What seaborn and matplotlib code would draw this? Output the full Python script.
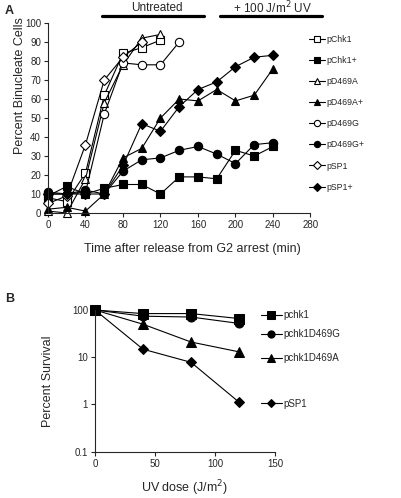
import numpy as np
import pandas as pd
import seaborn as sns
import matplotlib
matplotlib.use("Agg")
import matplotlib.pyplot as plt
from matplotlib.ticker import FixedLocator, FixedFormatter, NullLocator

# ---- panel A data: percent binucleate cells vs time (min) ----
t_pchk1 = [0, 20, 40, 60, 80, 100, 120]
v_pchk1 = [8, 6, 21, 62, 84, 87, 91]
t_pd469a = [0, 20, 40, 60, 80, 100, 120]
v_pd469a = [1, 0, 18, 58, 78, 92, 94]
t_pd469g = [0, 20, 40, 60, 80, 100, 120, 140]
v_pd469g = [10, 10, 11, 52, 79, 78, 78, 90]
t_psp1 = [0, 20, 40, 60, 80, 100]
v_psp1 = [5, 9, 36, 70, 82, 90]

t_uv = [0, 20, 40, 60, 80, 100, 120, 140, 160, 180, 200, 220, 240]
v_pchk1_uv = [9, 14, 10, 13, 15, 15, 10, 19, 19, 18, 33, 30, 35]
v_pd469a_uv = [2, 3, 1, 10, 29, 34, 50, 60, 59, 65, 59, 62, 76]
v_pd469g_uv = [11, 10, 12, 10, 22, 28, 29, 33, 35, 31, 26, 36, 37]
v_psp1_uv = [10, 10, 10, 10, 25, 47, 43, 56, 65, 69, 77, 82, 83]

# ---- panel B data: percent survival vs UV dose ----
dose = [0, 40, 80, 120]
surv_pchk1 = [100, 84, 84, 66]
surv_d469g = [100, 74, 71, 52]
surv_d469a = [100, 50, 21, 13]
surv_psp1 = [100, 14.8, 7.8, 1.12]

sns.set_style("ticks")
plt.rcParams['font.family'] = ['Liberation Sans', 'DejaVu Sans']
plt.rcParams['axes.linewidth'] = 0.8
plt.rcParams['xtick.major.width'] = 0.8
plt.rcParams['ytick.major.width'] = 0.8
plt.rcParams['xtick.major.size'] = 3
plt.rcParams['ytick.major.size'] = 3

fig = plt.figure(figsize=(4.01, 4.98), dpi=100)
axA = fig.add_axes([0.1197, 0.5723, 0.6546, 0.3815])
axB = fig.add_axes([0.2369, 0.093, 0.4489, 0.2845])

seriesA = [
    ("pChk1", t_pchk1, v_pchk1, "s", "white", 6),
    ("pChk1+", t_uv, v_pchk1_uv, "s", "black", 6),
    ("pD469A", t_pd469a, v_pd469a, "^", "white", 6),
    ("pD469A+", t_uv, v_pd469a_uv, "^", "black", 6),
    ("pD469G", t_pd469g, v_pd469g, "o", "white", 6),
    ("pD469G+", t_uv, v_pd469g_uv, "o", "black", 6),
    ("pSP1", t_psp1, v_psp1, "D", "white", 5),
    ("pSP1+", t_uv, v_psp1_uv, "D", "black", 5),
]
for name, t, v, mk, fc, ms in seriesA:
    df = pd.DataFrame({"time": t, "pct": v})
    sns.lineplot(data=df, x="time", y="pct", ax=axA, color="black", lw=0.8,
                 marker=mk, markerfacecolor=fc, markeredgecolor="black",
                 markeredgewidth=0.8, markersize=ms, label=name, clip_on=False)

axA.set_xlim(0, 280)
axA.set_ylim(0, 100)
axA.set_xticks(np.arange(0, 281, 40))
axA.set_yticks(np.arange(0, 101, 10))
axA.tick_params(labelsize=7, pad=2)
axA.set_xlabel("Time after release from G2 arrest (min)", fontsize=9)
axA.set_ylabel("Percent Binucleate Cells", fontsize=9)
axA.xaxis.set_label_coords(0.55, -0.16)
axA.yaxis.set_label_coords(-0.085, 0.67)
sns.despine(ax=axA)
axA.legend(loc="upper left", bbox_to_anchor=(0.98, 0.955), frameon=False,
           fontsize=6.3, handlelength=1.9, handletextpad=0.15, labelspacing=1.38,
           borderaxespad=0, markerscale=0.75)

# treatment bars above panel A
tr = axA.get_xaxis_transform()
axA.plot([58, 166], [1.037, 1.037], transform=tr, color="black", lw=2.3, clip_on=False)
axA.plot([183, 292], [1.037, 1.037], transform=tr, color="black", lw=2.3, clip_on=False)
axA.text(116, 1.08, "Untreated", transform=tr, ha="center", va="center", fontsize=8.5)
axA.text(240, 1.08, "+ 100 J/m$^2$ UV", transform=tr, ha="center", va="center", fontsize=8.5)

# ---- panel B ----
seriesB = [
    ("pchk1", surv_pchk1, "s", 6.5, 0.965),
    ("pchk1D469G", surv_d469g, "o", 6.5, 0.83),
    ("pchk1D469A", surv_d469a, "^", 6.5, 0.66),
    ("pSP1", surv_psp1, "D", 5.5, 0.34),
]
legs = []
for name, v, mk, ms, ly in seriesB:
    df = pd.DataFrame({"dose": dose, "surv": v})
    line = sns.lineplot(data=df, x="dose", y="surv", ax=axB, color="black", lw=0.8,
                        marker=mk, markerfacecolor="black", markeredgecolor="black",
                        markersize=ms, clip_on=False, legend=False).lines[-1]
    lg = axB.legend([line], [name], loc="center left", bbox_to_anchor=(0.92, ly),
                    frameon=False, fontsize=7, handlelength=2.15, handletextpad=0.15,
                    borderaxespad=0, borderpad=0, markerscale=0.8)
    legs.append(lg)
for lg in legs[:-1]:
    axB.add_artist(lg)

axB.set_yscale("log")
axB.set_ylim(0.1, 100)
axB.set_xlim(0, 150)
axB.set_xticks([0, 50, 100, 150])
axB.yaxis.set_major_locator(FixedLocator([0.1, 1, 10, 100]))
axB.yaxis.set_major_formatter(FixedFormatter(["0.1", "1", "10", "100"]))
axB.yaxis.set_minor_locator(NullLocator())
axB.tick_params(labelsize=7, pad=2)
axB.set_xlabel("UV dose (J/m$^2$)", fontsize=9)
axB.set_ylabel("Percent Survival", fontsize=9)
axB.xaxis.set_label_coords(0.5, -0.19)
axB.yaxis.set_label_coords(-0.23, 0.5)
sns.despine(ax=axB)

fig.text(0.012, 0.978, "A", fontsize=9, fontweight="bold", va="center")
fig.text(0.012, 0.40, "B", fontsize=9, fontweight="bold", va="center")

fig.savefig("out.png", dpi=100)
